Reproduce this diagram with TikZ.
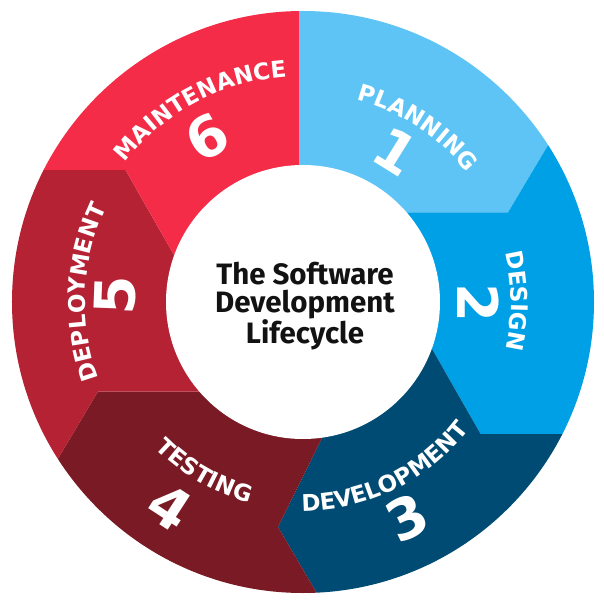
\documentclass[tikz,border=0pt]{standalone}
\usepackage{fontspec}
\setmainfont{Fira Sans}
\newfontfamily\stagefont{DejaVu Sans}
\usetikzlibrary{decorations.text}

% phase colours
\definecolor{planC}{HTML}{5EC4F5}
\definecolor{designC}{HTML}{00A0E6}
\definecolor{devC}{HTML}{004B73}
\definecolor{testC}{HTML}{7A1A24}
\definecolor{deployC}{HTML}{B42234}
\definecolor{maintC}{HTML}{F52C48}

\tikzset{
  segment/.style={fill=#1, draw=none},
  stagelabel/.style={decorate, decoration={text along path, text align=center,
      text color=white, text={|\stagefont\bfseries\fontsize{23}{23}\selectfont|#1}}},
  stagenum/.style={text=white, inner sep=0pt,
      font=\stagefont\bfseries\fontsize{56}{56}\selectfont},
  hub/.style={circle, fill=white, draw=none, inner sep=0pt, minimum size=274},
  title/.style={align=center, text=black!93, font=\bfseries\fontsize{29.5}{28}\selectfont},
}

\begin{document}
\begin{tikzpicture}[x=1pt, y=1pt]
\useasboundingbox[fill=white] (-303,-303) rectangle (301,302);

% boundary points between the phases: inner end, chevron tip, far outer end
\coordinate (b61i) at (-4,0);     \coordinate (b61o) at (-4,600);
\coordinate (b12i) at (0,89.5);   \coordinate (b12t) at (205,89.5);   \coordinate (b12o) at (400,417);
\coordinate (b23i) at (104,-3);   \coordinate (b23t) at (177.5,-132); \coordinate (b23o) at (600,-132);
\coordinate (b34i) at (41,-91.5); \coordinate (b34t) at (-25,-225);   \coordinate (b34o) at (160,-540);
\coordinate (b45i) at (0,-89.5);  \coordinate (b45t) at (-205,-89.5); \coordinate (b45o) at (-400,-417);
\coordinate (b56i) at (-104,3);   \coordinate (b56t) at (-177.5,132); \coordinate (b56o) at (-600,132);

\begin{scope}
  \clip (0,0) circle (291);
  \fill[segment=planC]   (b61i) -- (b61o) -- (45:800) -- (b12o) -- (b12t) -- (b12i) -- cycle;
  \fill[segment=designC] (b12i) -- (b12t) -- (b12o) -- (20:800) -- (b23o) -- (b23t) -- (b23i) -- cycle;
  \fill[segment=devC]    (b23i) -- (b23t) -- (b23o) -- (-50:800) -- (b34o) -- (b34t) -- (b34i) -- cycle;
  \fill[segment=testC]   (b34i) -- (b34t) -- (b34o) -- (-120:800) -- (b45o) -- (b45t) -- (b45i) -- cycle;
  \fill[segment=deployC] (b45i) -- (b45t) -- (b45o) -- (190:800) -- (b56o) -- (b56t) -- (b56i) -- cycle;
  \fill[segment=maintC]  (b56i) -- (b56t) -- (b56o) -- (150:800) -- (b61o) -- (b61i) -- cycle;
\end{scope}

\node[hub] (centre) at (0,0) {};
\node[title] (caption) at (2,-4) {The Software\\Development\\Lifecycle};

% phase names along the ring
\path[stagelabel=PLANNING]    (96.7:209) arc[start angle=96.7, end angle=16.7, radius=209];
\path[stagelabel=DESIGN]      (40.3:208) arc[start angle=40.3, end angle=-39.7, radius=208];
\path[stagelabel=DEVELOPMENT] (-103.9:209) arc[start angle=-103.9, end angle=-23.9, radius=209];
\path[stagelabel=TESTING]     (-160.2:208) arc[start angle=-160.2, end angle=-80.2, radius=208];
\path[stagelabel=DEPLOYMENT]  (217.4:218) arc[start angle=217.4, end angle=137.4, radius=218];
\path[stagelabel=MAINTENANCE] (157:226) arc[start angle=157, end angle=79, radius=226];

% phase numbers
\node[stagenum, rotate=-31.8] (n1) at (58.2:177) {1};
\node[stagenum, rotate=-90]   (n2) at (-0.3:175) {2};
\node[stagenum, rotate=25.8]  (n3) at (-64.2:239) {3};
\node[stagenum, rotate=-33]   (n4) at (-123:244) {4};
\node[stagenum, rotate=87.8]  (n5) at (177.8:188) {5};
\node[stagenum, rotate=30.2]  (n6) at (120.2:191) {6};
\end{tikzpicture}
\end{document}
